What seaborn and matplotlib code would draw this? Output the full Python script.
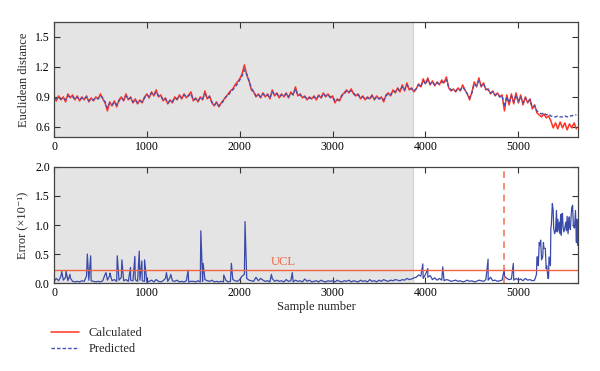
import numpy as np
import pandas as pd
import seaborn as sns
import matplotlib.pyplot as plt

# sample grid: one value every 25 samples, 0 .. 5625
step = 25

calculated = [
    0.90, 0.86, 0.91, 0.87, 0.90, 0.85, 0.93, 0.89, 0.92, 0.87,
    0.91, 0.86, 0.90, 0.87, 0.91, 0.85, 0.89, 0.86, 0.90, 0.88,
    0.93, 0.88, 0.84, 0.76, 0.85, 0.81, 0.86, 0.80, 0.87, 0.90,
    0.86, 0.93, 0.87, 0.90, 0.84, 0.88, 0.83, 0.87, 0.84, 0.90,
    # 1000
    0.93, 0.89, 0.95, 0.91, 0.97, 0.90, 0.92, 0.86, 0.89, 0.83,
    0.87, 0.84, 0.90, 0.87, 0.92, 0.88, 0.93, 0.89, 0.92, 0.95,
    0.86, 0.89, 0.85, 0.90, 0.87, 0.96, 0.88, 0.91, 0.84, 0.81,
    0.85, 0.80, 0.84, 0.87, 0.90, 0.93, 0.96, 0.98, 1.02, 1.05,
    # 2000
    1.08, 1.13, 1.22, 1.12, 1.06, 0.97, 0.95, 0.90, 0.93, 0.89,
    0.94, 0.90, 0.93, 0.88, 0.97, 0.91, 0.94, 0.89, 0.93, 0.90,
    0.94, 0.89, 0.95, 0.92, 1.00, 0.91, 0.93, 0.89, 0.91, 0.87,
    0.90, 0.88, 0.91, 0.87, 0.92, 0.89, 0.94, 0.90, 0.93, 0.89,
    # 3000
    0.91, 0.84, 0.88, 0.86, 0.92, 0.94, 0.97, 0.94, 0.98, 0.93,
    0.91, 0.93, 0.88, 0.91, 0.87, 0.90, 0.88, 0.92, 0.87, 0.91,
    0.88, 0.90, 0.85, 0.92, 0.94, 0.91, 0.97, 0.94, 0.99, 0.95,
    1.02, 0.96, 1.04, 0.97, 0.99, 0.95, 0.98, 1.03, 1.00, 1.08,
    # 4000
    1.03, 1.09, 1.02, 1.06, 1.01, 1.05, 1.02, 1.07, 1.04, 1.10,
    0.99, 0.96, 0.98, 0.95, 0.99, 0.96, 1.02, 0.97, 0.93, 0.87,
    0.95, 1.05, 1.00, 1.09, 1.00, 1.04, 0.97, 0.98, 0.93, 0.96,
    0.91, 0.94, 0.90, 0.92, 0.76, 0.92, 0.82, 0.93, 0.83, 0.94,
    # 5000
    0.84, 0.92, 0.82, 0.90, 0.84, 0.88, 0.78, 0.82, 0.74, 0.72,
    0.70, 0.73, 0.69, 0.71, 0.66, 0.59, 0.64, 0.58, 0.65, 0.59,
    0.64, 0.57, 0.63, 0.59, 0.64, 0.58,
]

predicted = [
    0.89, 0.88, 0.89, 0.88, 0.89, 0.87, 0.91, 0.90, 0.90, 0.88,
    0.90, 0.87, 0.89, 0.88, 0.90, 0.86, 0.88, 0.87, 0.89, 0.88,
    0.91, 0.89, 0.85, 0.79, 0.84, 0.82, 0.85, 0.82, 0.86, 0.89,
    0.87, 0.91, 0.88, 0.89, 0.85, 0.87, 0.84, 0.86, 0.85, 0.89,
    # 1000
    0.92, 0.90, 0.94, 0.92, 0.95, 0.91, 0.91, 0.87, 0.88, 0.84,
    0.86, 0.85, 0.89, 0.88, 0.91, 0.89, 0.92, 0.90, 0.91, 0.93,
    0.87, 0.88, 0.86, 0.89, 0.88, 0.93, 0.89, 0.90, 0.85, 0.82,
    0.84, 0.81, 0.83, 0.86, 0.90, 0.91, 0.95, 0.97, 1.00, 1.03,
    # 2000
    1.07, 1.11, 1.17, 1.13, 1.06, 0.99, 0.95, 0.91, 0.92, 0.90,
    0.93, 0.91, 0.92, 0.89, 0.95, 0.92, 0.93, 0.90, 0.92, 0.91,
    0.93, 0.90, 0.94, 0.92, 0.98, 0.92, 0.92, 0.90, 0.90, 0.88,
    0.89, 0.88, 0.90, 0.88, 0.91, 0.89, 0.93, 0.91, 0.92, 0.90,
    # 3000
    0.90, 0.86, 0.87, 0.87, 0.91, 0.93, 0.96, 0.95, 0.96, 0.94,
    0.91, 0.92, 0.89, 0.90, 0.88, 0.89, 0.88, 0.91, 0.88, 0.90,
    0.88, 0.89, 0.87, 0.91, 0.93, 0.92, 0.96, 0.95, 0.98, 0.96,
    1.00, 0.97, 1.02, 0.98, 0.98, 0.96, 0.98, 1.02, 1.00, 1.06,
    # 4000
    1.03, 1.07, 1.03, 1.05, 1.02, 1.04, 1.03, 1.05, 1.04, 1.07,
    1.00, 0.97, 0.97, 0.96, 0.98, 0.97, 1.00, 0.97, 0.93, 0.89,
    0.94, 1.03, 1.01, 1.06, 1.01, 1.03, 0.98, 0.97, 0.94, 0.95,
    0.92, 0.93, 0.90, 0.91, 0.80, 0.90, 0.84, 0.91, 0.85, 0.92,
    # 5000
    0.85, 0.90, 0.84, 0.89, 0.85, 0.87, 0.80, 0.81, 0.76, 0.74,
    0.73, 0.74, 0.72, 0.73, 0.71, 0.70, 0.70, 0.71, 0.70, 0.70,
    0.71, 0.70, 0.71, 0.71, 0.72, 0.72,
]

error = [
    0.03, 0.08, 0.04, 0.12, 0.05, 0.10, 0.04, 0.09, 0.03, 0.02,
    0.03, 0.02, 0.04, 0.03, 0.12, 0.05, 0.04, 0.03, 0.02, 0.03,
    0.02, 0.04, 0.15, 0.05, 0.13, 0.04, 0.06, 0.03, 0.05, 0.10,
    0.04, 0.06, 0.03, 0.05, 0.04, 0.06, 0.03, 0.05, 0.04, 0.03,
    # 1000
    0.02, 0.03, 0.05, 0.02, 0.06, 0.03, 0.02, 0.04, 0.08, 0.03,
    0.10, 0.04, 0.03, 0.05, 0.02, 0.03, 0.02, 0.04, 0.02, 0.03,
    0.03, 0.02, 0.04, 0.02, 0.03, 0.06, 0.04, 0.03, 0.05, 0.02,
    0.03, 0.02, 0.03, 0.02, 0.05, 0.02, 0.03, 0.06, 0.04, 0.03,
    # 2000
    0.06, 0.12, 0.15, 0.08, 0.05, 0.04, 0.03, 0.10, 0.04, 0.08,
    0.05, 0.03, 0.04, 0.02, 0.08, 0.03, 0.05, 0.03, 0.04, 0.02,
    0.06, 0.03, 0.04, 0.02, 0.05, 0.03, 0.04, 0.02, 0.07, 0.03,
    0.05, 0.02, 0.03, 0.04, 0.02, 0.05, 0.03, 0.02, 0.04, 0.03,
    # 3000
    0.04, 0.02, 0.05, 0.03, 0.02, 0.04, 0.03, 0.05, 0.02, 0.04,
    0.03, 0.02, 0.05, 0.03, 0.04, 0.02, 0.06, 0.03, 0.04, 0.02,
    0.05, 0.03, 0.06, 0.04, 0.03, 0.05, 0.04, 0.06, 0.05, 0.04,
    0.06, 0.05, 0.08, 0.06, 0.07, 0.09, 0.10, 0.14, 0.12, 0.08,
    # 4000
    0.15, 0.10, 0.13, 0.06, 0.09, 0.05, 0.08, 0.05, 0.04, 0.06,
    0.05, 0.03, 0.04, 0.05, 0.03, 0.04, 0.02, 0.03, 0.05, 0.03,
    0.04, 0.02, 0.03, 0.05, 0.04, 0.03, 0.06, 0.05, 0.10, 0.04,
    0.05, 0.03, 0.04, 0.05, 0.12, 0.08, 0.06, 0.07, 0.05, 0.08,
    # 5000
    0.05, 0.07, 0.04, 0.08, 0.05, 0.06, 0.04, 0.05, 0.45, 0.70,
    0.40, 0.60, 0.25, 0.08, 0.95, 1.25, 0.90, 1.10, 0.85, 1.20,
    0.95, 1.15, 1.00, 1.30, 0.95, 0.70,
]

# extra error readings between grid points (isolated peaks and the dense tail)
spike_x = [83, 129, 172, 359, 388, 395, 560, 602, 681, 731, 824, 871, 918,
           946, 975, 1211, 1257, 1444, 1581, 1606, 1828, 1910, 2057, 2341,
           2566, 3971, 4025, 4186, 4674, 4849, 4946,
           5195, 5210, 5215, 5232, 5240, 5262, 5270, 5290, 5305, 5312, 5318,
           5330, 5345, 5355, 5366, 5380, 5390, 5410, 5418, 5437, 5445, 5455,
           5462, 5470, 5482, 5490, 5510, 5518, 5535, 5542, 5548, 5560, 5570,
           5584, 5592, 5605, 5615, 5630, 5638]
spike_y = [0.20, 0.21, 0.15, 0.50, 0.34, 0.47, 0.18, 0.17, 0.47, 0.40, 0.27,
           0.46, 0.55, 0.38, 0.40, 0.18, 0.15, 0.22, 0.90, 0.34, 0.14, 0.34,
           1.06, 0.15, 0.18, 0.33, 0.25, 0.28, 0.41, 0.25, 0.34,
           0.15, 0.45, 0.30, 0.65, 0.74, 0.45, 0.70, 0.60, 0.30, 0.20, 0.08,
           0.45, 0.30, 1.00, 1.37, 0.95, 0.85, 1.25, 0.88, 0.90, 1.05, 1.18,
           0.82, 1.20, 0.95, 0.88, 1.05, 0.90, 0.85, 1.00, 1.14, 0.92, 1.20,
           1.34, 1.00, 0.95, 1.25, 1.10, 0.65]

ucl = 0.22
train_end = 3870
fault_at = 4845
x_max = 5640

samples = np.arange(len(calculated)) * step
df_top = pd.DataFrame({"sample": samples, "Calculated": calculated, "Predicted": predicted})
df_err = pd.concat([pd.DataFrame({"sample": samples, "error": error}),
                    pd.DataFrame({"sample": spike_x, "error": spike_y})]).sort_values("sample")

sns.set_theme(style="ticks")
plt.rcParams['font.family'] = ['Liberation Serif', 'DejaVu Serif']
plt.rcParams['font.size'] = 8.5
plt.rcParams['xtick.direction'] = 'in'
plt.rcParams['ytick.direction'] = 'in'

red = '#FF3324'
blue = '#4152B5'

fig = plt.figure(figsize=(6, 3.71), dpi=100)
ax1 = fig.add_axes([0.09, 0.631, 0.873, 0.31])
ax2 = fig.add_axes([0.09, 0.237, 0.873, 0.313])

for ax in (ax1, ax2):
    ax.axvspan(0, train_end, color='#E4E4E4', lw=0, zorder=0)
    ax.axvline(train_end, color='#D0D0D0', lw=0.8, zorder=0)

sns.lineplot(data=df_top, x="sample", y="Calculated", ax=ax1, color=red,
             lw=1.1, estimator=None, label="Calculated", legend=False)
sns.lineplot(data=df_top, x="sample", y="Predicted", ax=ax1, color=blue,
             lw=1.0, ls=(0, (2.5, 1.5)), estimator=None, label="Predicted", legend=False)

sns.lineplot(data=df_err, x="sample", y="error", ax=ax2, color='#3A4AAA',
             lw=0.9, estimator=None, sort=False)
ax2.axhline(ucl, color='#F26340', lw=1.0)
ax2.axvline(fault_at, color='#F47A5A', lw=1.2, ls=(0, (4, 3)))
ax2.text(2330, ucl + 0.04, "UCL", color='#F26340', fontsize=9, ha='left', va='bottom')

ax1.set_xlim(0, x_max)
ax1.set_ylim(0.5, 1.65)
ax1.set_yticks([0.6, 0.9, 1.2, 1.5])
ax1.set_ylabel("Euclidean distance", fontsize=9)
ax1.set_xlabel("")

ax2.set_xlim(0, x_max)
ax2.set_ylim(0, 2.0)
ax2.set_yticks([0.0, 0.5, 1.0, 1.5, 2.0])
ax2.set_yticklabels(["0.0", "0.5", "1.0", "1.5", "2.0"])
ax2.set_ylabel("Error (×10⁻¹)", fontsize=9)
ax2.set_xlabel("Sample number", fontsize=9, labelpad=1)

for ax in (ax1, ax2):
    ax.set_xticks([0, 1000, 2000, 3000, 4000, 5000])
    ax.tick_params(top=True, right=True, length=4, width=0.8, colors='#333333',
                   labelsize=8.5, pad=3)
    ax.tick_params(labelcolor='black')
    for s in ax.spines.values():
        s.set_color('#444444')
        s.set_linewidth(0.9)

h, l = ax1.get_legend_handles_labels()
fig.legend(h, l, loc='upper left', bbox_to_anchor=(0.075, 0.135), frameon=False,
           fontsize=9, handlelength=2.2, labelspacing=0.3, borderpad=0)

fig.savefig("out.png", dpi=100)
